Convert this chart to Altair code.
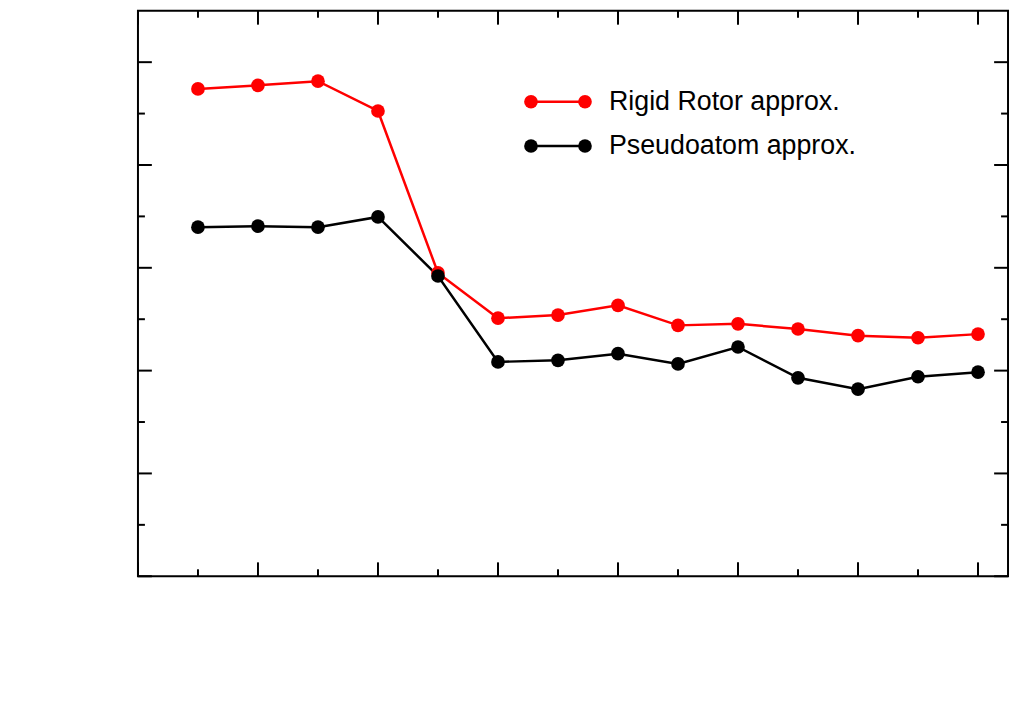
import pandas as pd
import altair as alt

n_h2 = list(range(1, 15))
rigid_rotor = [94.8, 95.5, 96.3, 90.5, 59.0, 50.2, 50.8, 52.7, 48.8, 49.1, 48.1, 46.8, 46.4, 47.1]
pseudoatom = [67.9, 68.1, 67.9, 69.9, 58.4, 41.7, 42.0, 43.3, 41.3, 44.6, 38.6, 36.4, 38.8, 39.7]
series = ["Rigid Rotor approx.", "Pseudoatom approx."]
colors = ["#ff0000", "#000000"]

W, H = 877, 570
FONT = "Liberation Sans"

df = pd.concat([
    pd.DataFrame({"n": n_h2, "E": rigid_rotor, "s": series[0]}),
    pd.DataFrame({"n": n_h2, "E": pseudoatom, "s": series[1]}),
])

xs = alt.Scale(domain=[0, 14.5], nice=False)
ys = alt.Scale(domain=[0, 110], nice=False)
cs = alt.Scale(domain=series, range=colors)

base = alt.Chart(df).encode(
    x=alt.X("n:Q", scale=xs, axis=alt.Axis(values=list(range(0, 15, 2)), format="d", title="Number of adsorbed H\u2082",
                                         ticks=False, grid=False, labelFontSize=29, titleFontSize=31,
                                         labelPadding=12, titlePadding=30, titleFontWeight="normal",
                                         labelFont=FONT, titleFont=FONT, labelColor="black", titleColor="black",
                                         domainColor="black", domainWidth=2)),
    y=alt.Y("E:Q", scale=ys, axis=alt.Axis(values=list(range(0, 101, 20)), format="d", title="Evaporation energy (meV)",
                                         ticks=False, grid=False, labelFontSize=29, titleFontSize=31,
                                         labelPadding=12, titlePadding=14, titleFontWeight="normal",
                                         labelFont=FONT, titleFont=FONT, labelColor="black", titleColor="black",
                                         domainColor="black", domainWidth=2)),
    color=alt.Color("s:N", scale=cs, legend=None),
    detail="s:N",
)
lines = base.mark_line(strokeWidth=2.5) + base.mark_circle(size=190, opacity=1)

# inward ticks on all four sides
xt = pd.DataFrame({"v": list(range(0, 15)), "len": [14 if i % 2 == 0 else 7 for i in range(15)]})
yt = pd.DataFrame({"v": list(range(0, 110, 10)), "len": [14 if i % 20 == 0 else 7 for i in range(0, 110, 10)]})
tick_style = dict(color="black", strokeWidth=2)


def xticks(d, y0, y1):
    return alt.Chart(d).mark_rule(**tick_style).encode(
        x=alt.X("v:Q", scale=xs, axis=None), y=alt.value(y0), y2=alt.YValue(y1))


def yticks(d, x0, x1):
    return alt.Chart(d).mark_rule(**tick_style).encode(
        y=alt.Y("v:Q", scale=ys, axis=None), x=alt.value(x0), x2=alt.XValue(x1))


mn_x, mj_x = xt[xt.len == 7], xt[xt.len == 14]
mn_y, mj_y = yt[yt.len == 7], yt[yt.len == 14]
ticks = [
    xticks(mn_x, H, H - 7), xticks(mj_x, H, H - 14), xticks(mn_x, 0, 7), xticks(mj_x, 0, 14),
    yticks(mn_y, 0, 7), yticks(mj_y, 0, 14), yticks(mn_y, W, W - 7), yticks(mj_y, W, W - 14),
]

# legend
leg = pd.DataFrame({"s": series, "y": [92.3, 83.7], "x1": [6.55, 6.55], "x2": [7.45, 7.45], "tx": [7.85, 7.85]})
leg_line = alt.Chart(leg).mark_rule(strokeWidth=2.5).encode(
    x=alt.X("x1:Q", scale=xs, axis=None), x2="x2:Q", y=alt.Y("y:Q", scale=ys, axis=None),
    color=alt.Color("s:N", scale=cs, legend=None))
leg_pts = alt.Chart(leg).transform_fold(["x1", "x2"], as_=["k", "px"]).mark_circle(size=190, opacity=1).encode(
    x=alt.X("px:Q", scale=xs, axis=None), y=alt.Y("y:Q", scale=ys, axis=None),
    color=alt.Color("s:N", scale=cs, legend=None))
leg_txt = alt.Chart(leg).mark_text(align="left", baseline="middle", fontSize=27, font=FONT, color="black").encode(
    x=alt.X("tx:Q", scale=xs, axis=None), y=alt.Y("y:Q", scale=ys, axis=None), text="s:N")

chart = alt.layer(
    lines, *ticks, leg_line, leg_pts, leg_txt
).properties(
    width=W, height=H,
    autosize=alt.AutoSizeParams(type="none"),
    padding={"left": 131, "top": 0, "right": 2, "bottom": 128},
).configure_view(stroke="black", strokeWidth=2)

chart.save("out.html", embed_options={"renderer": "svg", "actions": False})
